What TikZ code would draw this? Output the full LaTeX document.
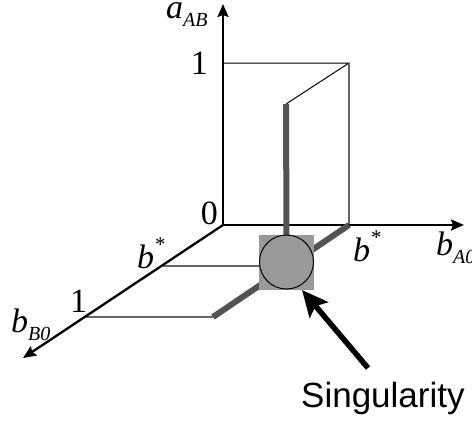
\documentclass[tikz,border=0pt]{standalone}
\usepackage{fontspec}
\setmainfont{Liberation Serif}
\newfontfamily\arialf{Liberation Sans}
\usetikzlibrary{arrows.meta}
\newcommand\mainlbl[1]{\fontsize{34}{34}\selectfont\itshape #1}
\newcommand\sublbl[1]{\raisebox{-8pt}{\fontsize{20}{20}\selectfont\itshape #1}}
\newcommand\suplbl{\raisebox{17pt}{\fontsize{21}{21}\selectfont *}}
\begin{document}
\begin{tikzpicture}[x=1pt,y=-1pt,
  axis/.style={line width=2.3pt,-{Stealth[length=13pt,width=11pt,inset=2pt]}},
  thinblack/.style={line width=1pt,black},
  thingray/.style={line width=1.1pt,black!60},
  thickgray/.style={line width=6pt,black!68},
  lbl/.style={inner sep=0pt,anchor=base west}]
\useasboundingbox (0,0) rectangle (472,424);
% key points
\coordinate (O) at (223,225);
\coordinate (Ztip) at (223,4);
\coordinate (Xtip) at (464,225);
\coordinate (Ytip) at (23,358);
\coordinate (Z1) at (223,63);
\coordinate (P1) at (349,63);
\coordinate (P2) at (286,104);
\coordinate (Xb) at (349,225);
\coordinate (Yb) at (163,266);
\coordinate (Y1) at (86,317);
\coordinate (Q1) at (213,317);
\coordinate (C) at (286.5,262);
\coordinate (Ctop) at (286.5,235);
\coordinate (Cleft) at (259,266);
\coordinate (Sa) at (368,368);
\coordinate (Sb) at (302,290);
% thin lines
\draw[thinblack] (Z1) -- (P1) -- (P2);
\draw[thingray] (P1) -- (Xb);
\draw[thingray] (Yb) -- (Cleft);
\draw[thingray] (Y1) -- (Q1);
% axes
\draw[axis] (O) -- (Ztip);
\draw[axis] (O) -- (Xtip);
\draw[axis] (O) -- (Ytip);
% thick gray segments
\draw[thickgray] (P2) -- (Ctop);
\draw[thickgray] (Xb) -- (Q1);
% singular point
\node[draw=none,fill=black!40,minimum size=55pt,inner sep=0pt] (sq) at (C) {};
\node[circle,draw=black,line width=1pt,fill=black!40,minimum size=54pt,inner sep=0pt] (circ) at (C) {};
% arrow
\draw[line width=5.5pt,-{Stealth[length=26pt,width=24pt,inset=5pt]}] (Sa) -- (Sb);
% labels
\node[lbl] (laAB) at (166,18) {\mainlbl{a}\sublbl{AB}};
\node[lbl,anchor=base east] (lz1) at (208,74) {\mainlbl{\upshape 1}};
\node[lbl,anchor=base east] (lz0) at (218,224) {\mainlbl{\upshape 0}};
\node[lbl] (lbsx) at (353,261) {\mainlbl{b}\suplbl};
\node[lbl] (lbA0) at (436,255) {\mainlbl{b}\sublbl{A0}};
\node[lbl] (lbsy) at (137,268) {\mainlbl{b}\suplbl};
\node[lbl] (ly1) at (70,312) {\mainlbl{\upshape 1}};
\node[lbl] (lbB0) at (11,332) {\mainlbl{b}\sublbl{B0}};
\node[lbl] (lsing) at (301,407) {\arialf\fontsize{35}{35}\selectfont Singularity};
\end{tikzpicture}
\end{document}
